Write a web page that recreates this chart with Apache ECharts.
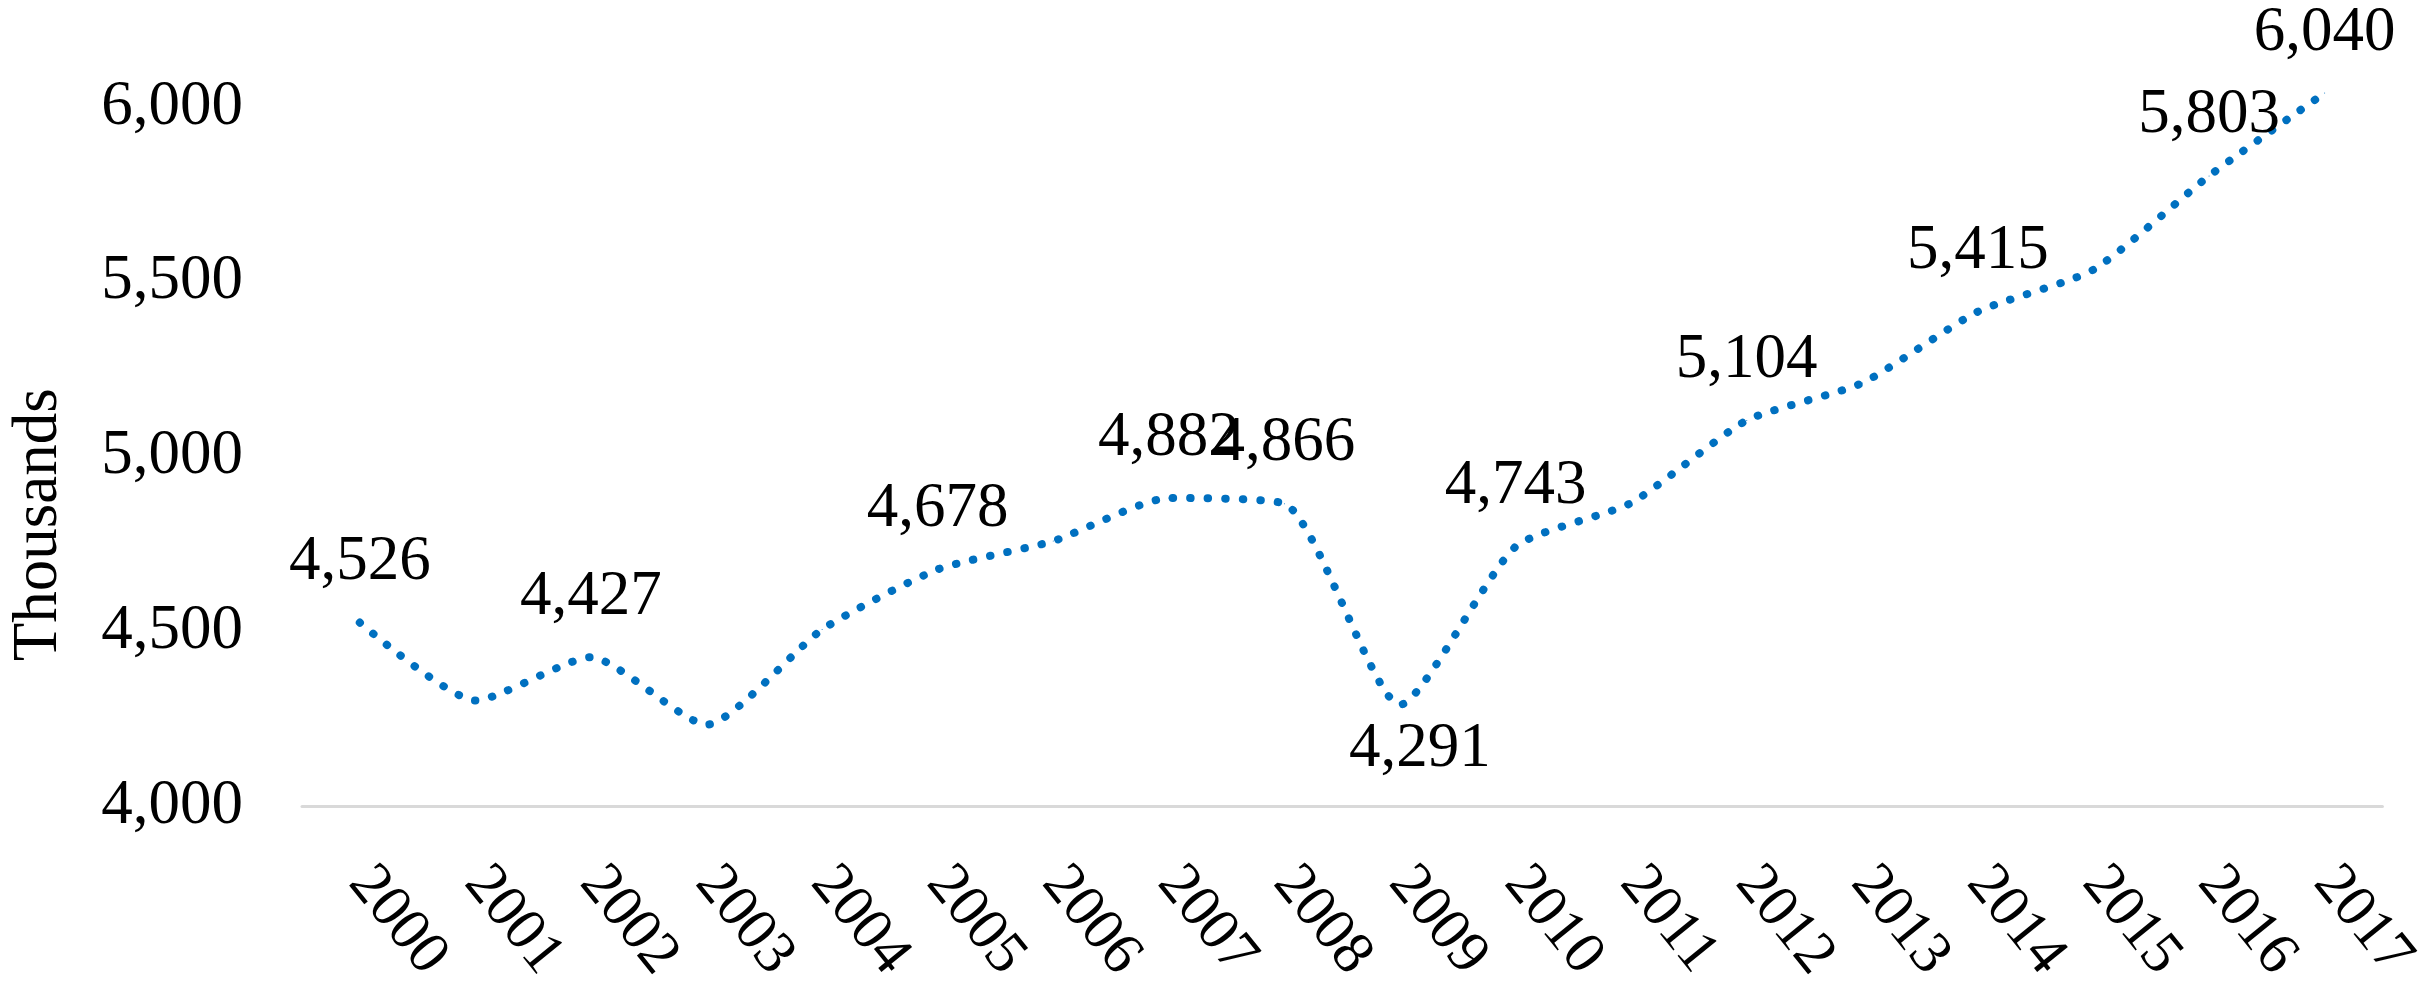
<!DOCTYPE html>
<html><head><meta charset="utf-8">
<script src="https://cdn.jsdelivr.net/npm/echarts@6/dist/echarts.min.js"></script>
<style>html,body{margin:0;padding:0;background:#fff}#c{width:2425px;height:988px}</style>
</head><body><div id="c"></div>
<script>
const years = ['2000','2001','2002','2003','2004','2005','2006','2007','2008','2009','2010','2011','2012','2013','2014','2015','2016','2017'];
const values = [4526, 4303, 4427, 4234, 4506, 4678, 4759, 4882, 4866, 4291, 4743, 4868, 5104, 5211, 5415, 5535, 5803, 6040];
const labelledYears = ['2000','2002','2005','2007','2008','2009','2010','2012','2014','2016','2017'];
const labelBelowYears = ['2009'];
const yTicks = [4000, 4500, 5000, 5500, 6000];
const yAxisName = 'Thousands';

const FONT = "'Liberation Serif', 'Times New Roman', serif";
const fmt = v => Number(v).toLocaleString('en-US');

const seriesData = values.map((v, i) => {
  const y = years[i];
  if (!labelledYears.includes(y)) return v;
  const below = labelBelowYears.includes(y);
  return {
    value: v,
    label: below
      ? { show: true, position: 'bottom', distance: 13, offset: [20, 0] }
      : { show: true, position: 'top', distance: 28 }
  };
});

const chart = echarts.init(document.getElementById('c'), null, { renderer: 'canvas' });
chart.setOption({
  animation: false,
  backgroundColor: '#fff',
  grid: { left: 295, right: 37, top: 107, bottom: 175, containLabel: false },
  xAxis: {
    type: 'category',
    data: years,
    boundaryGap: true,
    axisLine: { show: true, lineStyle: { color: '#d9d9d9', width: 3 } },
    axisTick: { show: false },
    axisLabel: {
      rotate: -51, margin: 67, interval: 0,
      color: '#000', fontSize: 60, fontFamily: FONT
    },
    splitLine: { show: false }
  },
  yAxis: {
    type: 'value',
    min: yTicks[0], max: yTicks[yTicks.length - 1], interval: yTicks[1] - yTicks[0],
    name: yAxisName, nameLocation: 'middle', nameGap: 231, nameRotate: 90,
    nameTextStyle: { color: '#000', fontSize: 63, fontFamily: FONT, padding: [0, 136, 0, 0] },
    axisLine: { show: false }, axisTick: { show: false },
    splitLine: { show: false },
    axisLabel: { margin: 59, color: '#000', fontSize: 63, fontFamily: FONT, formatter: fmt }
  },
  series: [{
    type: 'line',
    data: seriesData,
    smooth: 0.2,
    clip: false,
    symbol: 'circle', symbolSize: 1, showAllSymbol: true,
    itemStyle: { color: '#0070C0' },
    lineStyle: { color: '#0070C0', width: 8, type: [0.5, 17], cap: 'round' },
    label: { show: false, color: '#000', fontSize: 63, fontFamily: FONT, formatter: p => fmt(p.value) },
    emphasis: { disabled: true }
  }]
});
</script></body></html>
